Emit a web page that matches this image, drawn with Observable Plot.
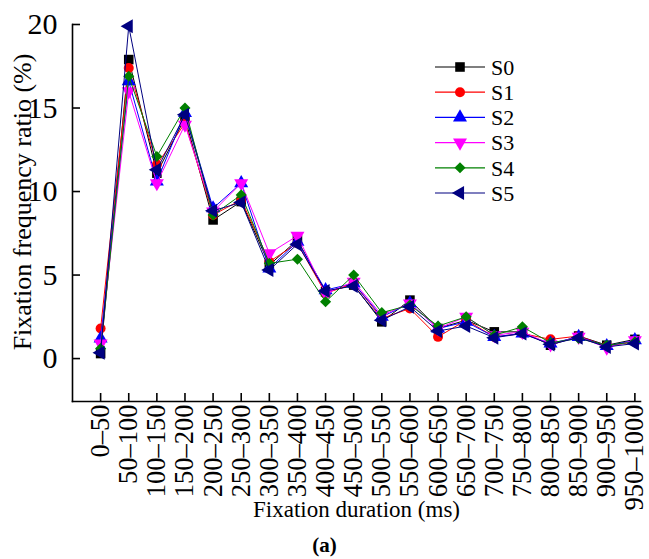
<!DOCTYPE html>
<html><head><meta charset="utf-8">
<script src="https://cdn.jsdelivr.net/npm/d3@7"></script>
<script src="https://cdn.jsdelivr.net/npm/@observablehq/plot@0.6"></script>
<style>
body{margin:0;background:#fff}
#wrap{position:relative;width:649px;height:559px;font-family:"Liberation Serif","Times New Roman",Times,serif;color:#000}
#cap{position:absolute;left:0;top:532px;width:649px;text-align:center;font-weight:bold;font-size:21px;line-height:26px}
#legend{position:absolute;left:0;top:0}
</style>
</head><body><div id="wrap"></div>
<script>
const categories = ["0–50","50–100","100–150","150–200","200–250","250–300","300–350","350–400","400–450","450–500","500–550","550–600","600–650","650–700","700–750","750–800","800–850","850–900","900–950","950–1000"];
const seriesNames = ["S0","S1","S2","S3","S4","S5"];
const seriesColors = ["#000000","#ff0000","#0000ff","#ff00ff","#008000","#000080"];
const yTicks = [0,5,10,15,20];
const xTitle = "Fixation duration (ms)";
const yTitle = "Fixation frequency ratio (%)";
const S0 = [0.3, 17.9, 11.1, 14.4, 8.3, 9.4, 5.6, 7.1, 4.0, 4.4, 2.2, 3.5, 1.8, 2.3, 1.6, 1.6, 0.8, 1.35, 0.8, 1.15];
const S1 = [1.8, 17.4, 11.6, 14.1, 8.6, 9.5, 5.8, 6.9, 3.9, 4.5, 2.4, 3.0, 1.3, 2.3, 1.3, 1.5, 1.15, 1.35, 0.75, 1.0];
const S2 = [1.2, 16.6, 10.6, 14.7, 9.0, 10.5, 5.4, 7.0, 4.1, 4.5, 2.5, 3.3, 1.8, 2.2, 1.3, 1.5, 0.9, 1.3, 0.75, 1.1];
const S3 = [0.9, 16.0, 10.5, 14.0, 8.8, 10.5, 6.3, 7.35, 3.9, 4.6, 2.6, 3.3, 1.8, 2.5, 1.4, 1.6, 0.85, 1.3, 0.65, 1.1];
const S4 = [0.6, 16.9, 12.1, 15.0, 8.6, 9.8, 5.7, 5.95, 3.4, 5.0, 2.75, 3.2, 1.95, 2.5, 1.4, 1.9, 0.95, 1.2, 0.8, 1.0];
const S5 = [0.35, 19.9, 11.3, 14.6, 8.85, 9.35, 5.3, 6.85, 4.05, 4.35, 2.3, 3.1, 1.65, 1.95, 1.25, 1.5, 0.85, 1.25, 0.7, 0.9];
const seriesValues = [S0,S1,S2,S3,S4,S5];

const sqrt3 = Math.sqrt(3);
const triDown = {draw(ctx, size){const y=-Math.sqrt(size/(sqrt3*3));ctx.moveTo(0,-y*2);ctx.lineTo(-sqrt3*y,y);ctx.lineTo(sqrt3*y,y);ctx.closePath();}};
const triLeft = {draw(ctx, size){const y=-Math.sqrt(size/(sqrt3*3));ctx.moveTo(y*2,0);ctx.lineTo(-y,-sqrt3*y);ctx.lineTo(-y,sqrt3*y);ctx.closePath();}};
const symbols = [d3.symbolSquare, d3.symbolCircle, d3.symbolTriangle, triDown, d3.symbolDiamond2, triLeft];
const radii = [5.4, 5, 5.2, 5.2, 5, 5.2];

const rows = [];
seriesValues.forEach((vals, s) => vals.forEach((v, i) => rows.push({series: seriesNames[s], i, v})));

const marks = [];
seriesNames.forEach((name, s) => {
  const d = rows.filter(r => r.series === name);
  marks.push(Plot.line(d, {x: "i", y: "v", stroke: seriesColors[s], strokeWidth: 1}));
  marks.push(Plot.dot(d, {x: "i", y: "v", fill: seriesColors[s], stroke: "none", symbol: symbols[s], r: radii[s]}));
});

const FF = "'Liberation Serif','Times New Roman',Times,serif";
const W = 649, H = 530;
const chart = Plot.plot({
  width: W, height: H,
  marginLeft: 72, marginRight: 9, marginTop: 24, marginBottom: H - 401,
  style: {fontFamily: FF, fontSize: "22px", color: "#000", background: "#fff"},
  x: {domain: [-1, 19.2]},
  y: {domain: [-2.57, 20]},
  marks: [
    Plot.frame({anchor: "left", strokeWidth: 1.6}),
    Plot.frame({anchor: "bottom", strokeWidth: 1.6}),
    Plot.axisY({ticks: yTicks, tickSize: -8, tickPadding: 23, strokeWidth: 1.6, fontSize: 30, label: null, tickFormat: d => String(d)}),
    Plot.axisX({ticks: d3.range(categories.length), tickFormat: i => categories[i], tickRotate: -90, tickSize: -8, tickPadding: 11, strokeWidth: 1.6, fontSize: 26.5, label: null}),
    Plot.text([yTitle], {frameAnchor: "left", textAnchor: "middle", lineAnchor: "middle", rotate: -90, dx: -50, dy: -11, fontSize: 26, text: d => d}),
    Plot.text([xTitle], {frameAnchor: "bottom", textAnchor: "middle", lineAnchor: "middle", dy: 108, fontSize: 23, text: d => d}),
    ...marks
  ]
});
const wrap = document.getElementById("wrap");
wrap.appendChild(chart);

// legend overlay
const lg = d3.select(wrap).append("svg").attr("id","legend").attr("width",W).attr("height",H);
seriesNames.forEach((name, s) => {
  const y = 67 + s * 25.2;
  const g = lg.append("g");
  g.append("line").attr("x1",435).attr("x2",485).attr("y1",y).attr("y2",y).attr("stroke",seriesColors[s]).attr("stroke-width",1.2);
  g.append("path").attr("transform",`translate(460,${y})`).attr("d", d3.symbol(symbols[s], Math.PI*radii[s]*radii[s])()).attr("fill",seriesColors[s]);
  g.append("text").attr("x",491).attr("y",y).attr("dy","0.35em").attr("font-size",22).text(name);
});

const cap = document.createElement("div");
cap.id = "cap"; cap.textContent = "(a)";
wrap.appendChild(cap);
</script>
</body></html>
